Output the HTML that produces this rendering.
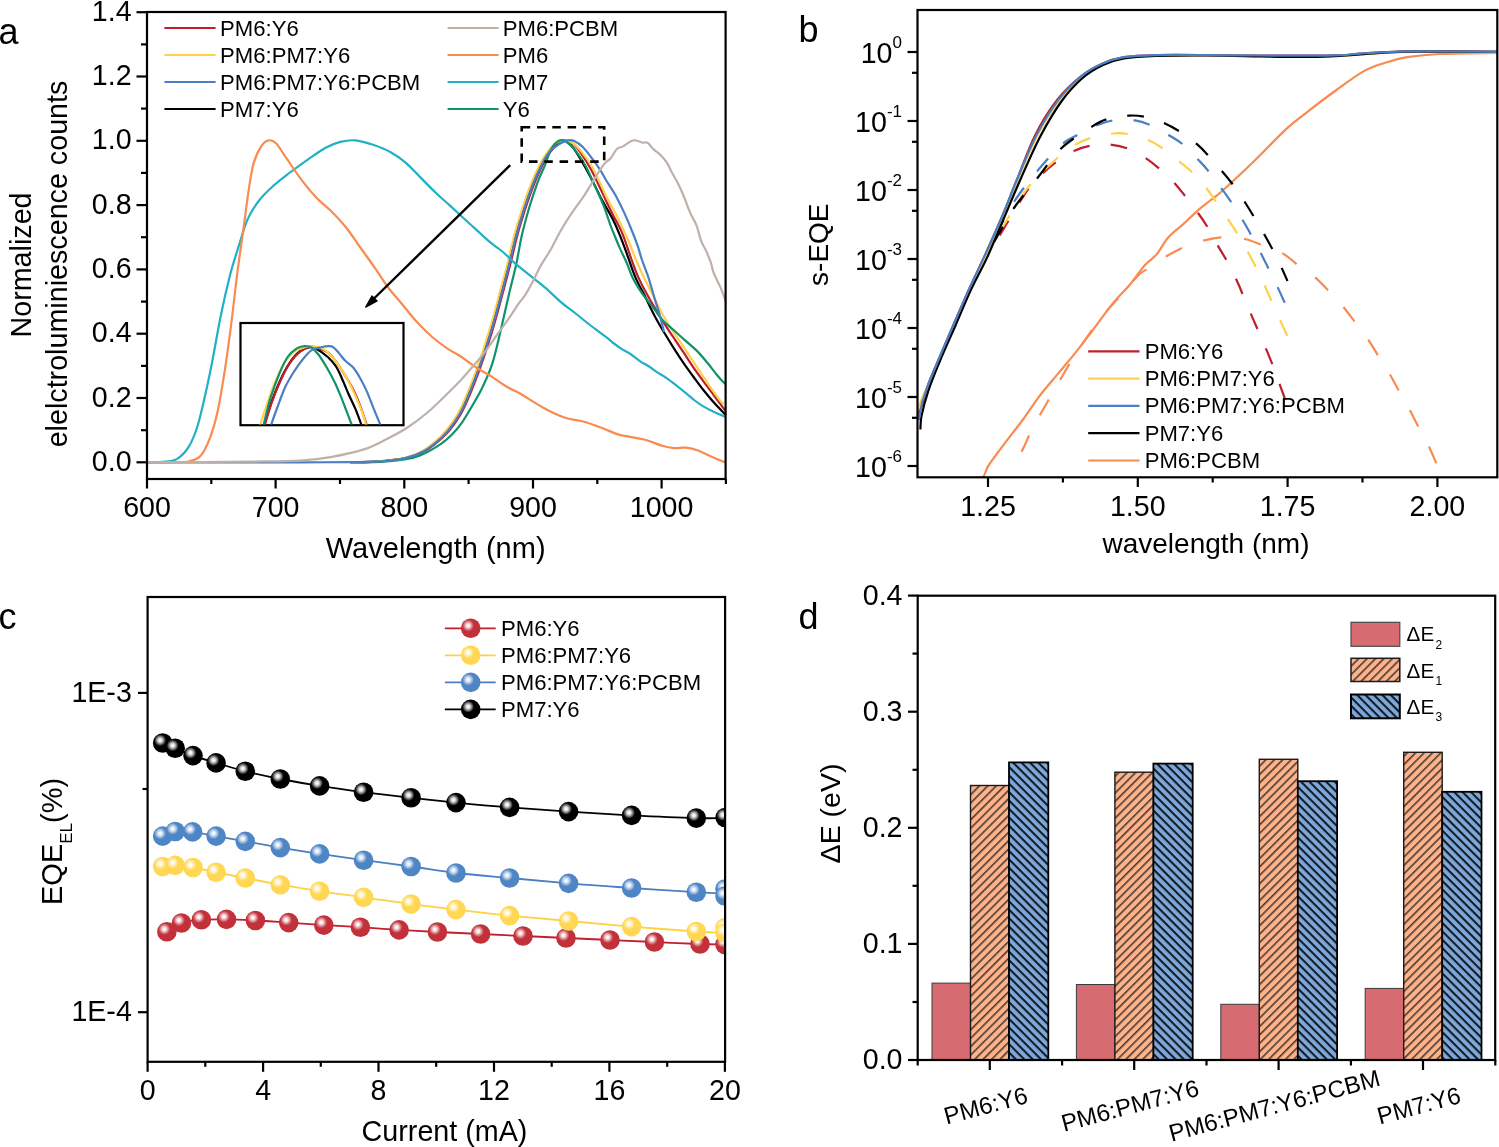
<!DOCTYPE html><html><head><meta charset="utf-8"><style>html,body{margin:0;padding:0;background:#fff;overflow:hidden}svg{display:block;will-change:transform}text{font-family:"Liberation Sans",sans-serif;fill:#000}</style></head><body>
<svg width="1499" height="1147" viewBox="0 0 1499 1147">
<rect width="1499" height="1147" fill="#fff"/>
<defs><clipPath id="clipA"><rect x="147" y="12" width="578.6" height="467"/></clipPath></defs>
<g clip-path="url(#clipA)">
<path d="M350 462.2C354.1 462.1 365.6 462.4 374.8 461.7C384 461 396.8 460 405.2 458.2C413.5 456.4 418.5 454.6 424.9 451C431.3 447.4 438.7 441.2 443.7 436.5C448.7 431.8 451.6 427.9 455 423C458.4 418.1 460.4 415.6 464.4 407C468.4 398.4 474.7 382.8 478.8 371.7C482.9 360.6 486.4 349.3 489.2 340.7C492 332.1 493.4 326.9 495.4 320C497.4 313.1 498.6 308.7 501 299.5C503.4 290.3 507.4 275.8 510.1 265C512.8 254.2 515 244 517.4 234.9C519.8 225.8 522.1 218.7 524.7 210.5C527.4 202.3 530.4 193.3 533.3 186C536.1 178.7 538.9 172.2 541.8 166.5C544.6 160.8 547.6 155.7 550.4 151.9C553.2 148.1 556 145.7 558.5 143.8C561 141.9 562.9 140.4 565.5 140.5C568.1 140.6 571.2 142 574 144.5C576.8 147 579.6 151.2 582.5 155.5C585.4 159.8 588.4 164.7 591.3 170C594.2 175.3 597.4 182.4 599.9 187.5C602.4 192.6 603.8 196 606 200.7C608.2 205.3 610.6 210.1 613.3 215.4C615.9 220.7 618.9 225.3 621.9 232.4C624.9 239.5 628.4 250.8 631 258C633.6 265.2 635.2 270.1 637.7 275.9C640.2 281.7 643.2 287.3 646.3 293C649.4 298.7 652.9 304.6 656.1 310.1C659.4 315.6 662.5 320.8 665.8 325.9C669 331 672.3 335.7 675.6 340.6C678.9 345.5 682.1 350.3 685.4 355.2C688.6 360.1 691.9 365.2 695.1 369.9C698.4 374.6 701.4 378.6 704.9 383.3C708.4 388 712.4 393.3 715.9 398C719.4 402.7 724.3 409.2 726 411.5" fill="none" stroke="#BE1E2D" stroke-width="2.2" stroke-linejoin="round"/>
<path d="M350 462.2C354.1 462.1 365.6 462.4 374.7 461.7C383.8 461 396.6 460 404.7 458.2C412.8 456.4 417.4 454.6 423.6 451C429.8 447.4 437 441.2 441.9 436.5C446.8 431.8 449.8 427.9 453.2 423C456.6 418.1 458.6 415.6 462.6 407C466.6 398.4 472.9 382.8 477 371.7C481.1 360.6 484.6 349.3 487.4 340.7C490.2 332.1 491.6 326.9 493.6 320C495.6 313.1 496.8 308.7 499.2 299.5C501.6 290.3 505.6 275.8 508.3 265C511 254.2 513.2 244 515.6 234.9C518 225.8 520.3 218.7 522.9 210.5C525.6 202.3 528.6 193.3 531.5 186C534.4 178.7 537.1 172.2 540 166.5C542.9 160.8 545.7 155.7 548.6 151.9C551.5 148.1 554.8 145.4 557.5 143.5C560.2 141.6 562.4 139.8 565 140.5C567.6 141.2 570.2 144.1 573 147.5C575.8 150.9 578.6 155.8 581.6 161C584.6 166.2 588.2 172.7 591.3 178.5C594.3 184.3 597.4 191.2 599.9 196C602.4 200.8 603.8 203 606 207C608.2 211 610.8 215.1 613.3 220.2C615.8 225.2 618.2 231.2 620.7 237.3C623.2 243.4 625.6 250.4 628 257C630.4 263.6 632.4 270.5 635.3 277.1C638.1 283.7 641.9 290.1 645.1 296.6C648.4 303.1 651.5 310.1 654.8 316.2C658 322.3 661.3 327.8 664.6 333.3C667.9 338.8 671.1 344 674.4 349.1C677.6 354.2 680.8 359.1 684.1 363.8C687.4 368.5 690.7 373 694 377.5C697.3 382 700.6 386.6 704 390.8C707.4 395 710.4 398.7 714.1 402.8C717.8 406.9 724 413.1 726 415.2" fill="none" stroke="#000000" stroke-width="2.2" stroke-linejoin="round"/>
<path d="M350 462.2C354.1 462.1 365.6 462.4 374.7 461.7C383.8 461 396.4 460 404.4 458.2C412.4 456.4 416.6 454.6 422.7 451C428.8 447.4 435.8 441.2 440.7 436.5C445.6 431.8 448.6 427.9 452 423C455.4 418.1 457.4 415.6 461.4 407C465.4 398.4 471.7 382.8 475.8 371.7C479.9 360.6 483.4 349.3 486.2 340.7C489 332.1 490.4 326.9 492.4 320C494.4 313.1 495.6 308.7 498 299.5C500.4 290.3 504.4 275.8 507.1 265C509.8 254.2 512 244 514.4 234.9C516.8 225.8 519.1 218.7 521.7 210.5C524.4 202.3 527.4 193.3 530.3 186C533.1 178.7 535.9 172.2 538.8 166.5C541.6 160.8 544.5 155.8 547.4 151.9C550.2 148 553.2 145.2 555.9 143.3C558.5 141.4 560.4 140.3 563.3 140.3C566.1 140.3 570 141.4 573 143.3C576 145.2 578.6 148.2 581.6 151.9C584.6 155.6 588.2 160.2 591.3 165.3C594.3 170.4 597.4 177.3 599.9 182.4C602.4 187.5 603.8 191.5 606 196C608.2 200.5 610.8 204.5 613.3 209.2C615.8 213.8 618.2 218.8 620.7 223.9C623.2 229 625.6 234.1 628 239.8C630.4 245.5 632.9 252.2 635.3 258C637.7 263.8 639.8 268.7 642.6 274.7C645.5 280.7 649.1 287.7 652.4 294.2C655.7 300.7 659 307.8 662.2 313.7C665.5 319.6 668.6 324.5 671.9 329.6C675.1 334.7 678.4 339.3 681.7 344.2C685 349.1 688.2 354 691.5 358.9C694.8 363.8 698 368.7 701.2 373.6C704.5 378.5 707.9 383.8 711 388.2C714.1 392.6 717.5 397.4 719.6 400C721.7 402.6 723 403.3 723.7 404" fill="none" stroke="#FDD14A" stroke-width="2.2" stroke-linejoin="round"/>
<path d="M350 462.2C355 462.2 370.9 462.5 380 462C389.1 461.5 397.7 460.5 404.4 459.4C411.1 458.3 413.9 458.1 420 455.5C426.1 452.9 435.4 447.6 440.7 444.1C446 440.6 448.6 437.9 452 434.5C455.4 431.1 458.1 428 461.4 423.4C464.6 418.8 468.1 412.9 471.5 407C474.9 401.1 478.5 395.6 482 388.3C485.5 381 489.3 373.1 492.4 363.4C495.5 353.7 498.1 341.4 500.8 330C503.5 318.6 506.2 306 508.8 295C511.4 284 514.1 273.8 516.3 264C518.4 254.2 519.6 245.3 521.7 236C523.8 226.7 526.5 216.9 529.1 208C531.8 199.1 535 189.5 537.6 182.4C540.2 175.3 542.7 170.8 544.9 165.3C547.1 159.8 548.8 153.5 551 149.4C553.2 145.3 555.9 142.2 558.4 140.9C560.9 139.6 562.9 139.9 565.7 141.5C568.6 143.1 572.2 146.6 575.5 150.6C578.8 154.6 582 159.4 585.2 165.3C588.5 171.2 591.9 179.3 595 186C598.1 192.7 601.1 199.3 603.6 205.6C606.1 211.9 608.4 219.5 610 224C611.6 228.5 611.7 228.6 613.3 232.4C614.9 236.2 617.1 242 619.4 247.1C621.6 252.2 624.5 257.8 626.8 263C629 268.2 630.3 273.1 632.9 278.3C635.5 283.5 639.4 289.5 642.6 294.2C645.9 298.9 649.1 302.1 652.4 306.4C655.7 310.7 658.5 315.7 662.2 319.8C665.9 323.9 670.5 327.3 674.4 330.8C678.3 334.3 681.7 337.3 685.4 340.6C689.1 343.9 692.9 346.9 696.4 350.4C699.9 353.8 702.9 357.4 706.1 361.3C709.4 365.2 713.4 370.5 715.9 373.6C718.4 376.7 719.6 378.2 721.3 380C723 381.8 725.2 383.8 726 384.5" fill="none" stroke="#0E936A" stroke-width="2.2" stroke-linejoin="round"/>
<path d="M147 462.3C172.5 462.3 262 462.4 300 462.3C338 462.2 357.3 462.4 374.7 461.7C392.2 461 396.7 460 404.9 458.2C413.1 456.4 417.9 454.6 424.2 451C430.5 447.4 437.7 441.2 442.7 436.5C447.7 431.8 450.6 427.9 454 423C457.4 418.1 459.4 415.6 463.4 407C467.4 398.4 473.7 382.8 477.8 371.7C481.9 360.6 485.4 349.3 488.2 340.7C491 332.1 492.4 326.9 494.4 320C496.4 313.1 497.6 308.7 500 299.5C502.4 290.3 506.4 275.8 509.1 265C511.8 254.2 514 244 516.4 234.9C518.8 225.8 521.1 218.7 523.7 210.5C526.4 202.3 529.4 193.3 532.3 186C535.1 178.7 537.9 172.2 540.8 166.5C543.6 160.8 546.1 155.8 549.4 151.9C552.7 148 557.7 145.2 560.8 143.3C563.9 141.4 565.9 140.7 568.1 140.3C570.3 139.9 571.8 139.8 574.2 140.9C576.7 142 579.7 143.9 582.8 147C585.9 150.1 589.5 155.1 592.6 159.2C595.7 163.3 598.9 167.9 601.1 171.4C603.3 174.9 603.5 175.9 606 180C608.5 184.1 612.8 190.3 615.8 195.8C618.8 201.3 621.7 207.2 624.3 212.9C626.9 218.6 629.4 224.5 631.6 230C633.8 235.5 636 240.9 637.7 245.9C639.4 250.9 640.2 254.6 642 260C643.8 265.4 646.6 271.8 648.7 278.3C650.8 284.8 653 293 654.8 299.1C656.6 305.2 658.2 309.4 659.7 314.9C661.2 320.4 663.3 329.1 664 332" fill="none" stroke="#4A7EC5" stroke-width="2.2" stroke-linejoin="round"/>
<path d="M147 462.3C149.5 462.2 157 462.3 161.9 461.8C166.8 461.3 172.3 461.5 176.7 459.1C181.1 456.7 185.1 452.6 188.5 447.2C191.9 441.8 194.7 434.9 197.4 426.5C200.1 418.1 202.3 407.7 204.8 396.8C207.3 385.9 209.6 375 212.3 361.2C215 347.4 218.2 328.1 221.2 313.8C224.1 299.5 227.1 286.7 230 275.3C232.9 263.9 235.9 255 238.9 245.6C241.9 236.2 244.3 226.6 247.8 218.9C251.3 211.2 255.2 205.4 259.7 199.7C264.1 194 269.6 189.2 274.5 184.8C279.4 180.4 283.8 177.2 289.3 173C294.9 168.8 301.8 163.8 307.8 159.6C313.9 155.4 320.2 150.8 325.6 147.8C331 144.9 335.5 143.1 340.4 141.9C345.3 140.7 349.8 139.9 355.2 140.4C360.6 140.9 367.1 142.8 373 144.8C378.9 146.8 385.3 149.2 390.7 152.2C396.1 155.2 400.7 158.4 405.6 162.6C410.6 166.8 415.5 172.5 420.4 177.4C425.3 182.3 430.3 187.5 435.2 192.2C440.1 196.9 444.2 200.3 450 205.6C455.8 210.9 463.3 217.9 470 224C476.7 230.1 485 237.9 490 242.2C495 246.4 496.8 247.1 499.8 249.5C502.9 251.9 505.8 254.6 508.3 256.9C510.8 259.2 510.8 259.9 515 263.4C519.2 266.9 528.2 274 533.3 278.1C538.4 282.2 541 284 545.5 287.9C550 291.8 555.1 297.1 560 301.3C564.9 305.5 570 309.1 575 313C580 316.9 584.8 321 590 325C595.2 329 602.1 333.9 606 336.9C609.9 339.9 610.6 341 613.3 343C615.9 345 619 347.3 621.9 349.1C624.8 350.9 627.3 352 630.4 354C633.5 356 637.2 359.3 640.2 361.3C643.2 363.3 645.9 364.4 648.7 366.2C651.6 368 654.2 370.3 657.3 372.3C660.3 374.3 663.8 376.1 667 378.4C670.2 380.6 673.6 383.3 676.8 385.8C680 388.3 683.4 390.9 686.3 393.3C689.2 395.7 691.5 397.9 694.1 400C696.7 402.1 698.8 403.6 702.1 405.6C705.4 407.6 710.1 410.1 714.1 412C718.1 413.9 724 416.2 726 417" fill="none" stroke="#22B0C6" stroke-width="2.2" stroke-linejoin="round"/>
<path d="M147 462.3C151.7 462.3 168.1 462.3 175 462.2C181.9 462.1 184.3 462.5 188.5 461.5C192.7 460.5 196.8 460 200.4 456.1C204 452.2 206.9 445.7 209.8 438.3C212.7 430.9 215 423.5 217.6 411.6C220.2 399.8 223 382 225.3 367.2C227.6 352.4 229.4 338.5 231.4 322.7C233.4 306.9 235.4 287.6 237.4 272.3C239.4 257 241.3 244.6 243.2 230.8C245.1 217 247 200.7 248.8 189.3C250.6 177.9 251.7 169.8 253.8 162.6C255.9 155.4 258.7 150 261.2 146.3C263.7 142.6 266.1 140.9 268.6 140.4C271.1 139.9 273 140.3 276 143.3C279 146.3 282.1 152 286.4 158.2C290.7 164.4 296.8 173.8 301.9 180.4C306.9 187.1 311.8 192.9 316.7 198.1C321.6 203.3 326.6 206.6 331.5 211.5C336.4 216.4 341.4 221.6 346.3 227.8C351.2 234 356.2 241.6 361.1 248.5C366 255.4 371.4 262.9 375.9 269.3C380.3 275.7 383.4 281.1 387.8 287C392.2 292.9 397.7 298.9 402.6 304.8C407.5 310.7 412.5 317.2 417.4 322.6C422.3 328 427.2 332.7 432.2 337C437.1 341.3 442.5 345.1 447.1 348.3C451.7 351.5 454.9 352.6 460 356C465.1 359.4 472.6 365.2 477.6 368.5C482.6 371.8 485.9 373 490 375.5C494.1 378 498.4 381.4 502 383.7C505.6 386 508.3 387.6 511.3 389.2C514.3 390.8 514.6 390.4 520 393.5C525.4 396.6 536.3 404 543.7 408C551.1 412 558 415.3 564.4 417.5C570.8 419.7 576.3 419.7 582.2 421.3C588.1 422.9 594 425 600 427.2C606 429.4 613 432.8 618 434.4C623 436 625.3 435.9 630 436.8C634.7 437.7 640.7 438.5 646 440C651.3 441.5 657.3 444.3 662 445.7C666.7 447.1 670.1 447.8 674.1 448.1C678.1 448.4 682.1 447.3 686.1 447.7C690.1 448.1 694.1 449.1 698.1 450.5C702.1 451.9 705.5 454.1 710.1 456.1C714.8 458.1 723.4 461.6 726 462.7" fill="none" stroke="#F98B50" stroke-width="2.2" stroke-linejoin="round"/>
<path d="M147 462.3C164.2 462.2 224.5 461.9 250 461.6C275.5 461.3 286.3 461.4 300 460.6C313.7 459.8 321.3 458.7 332 456.8C342.7 454.9 355.1 452.2 364 449.4C372.9 446.6 378.3 443.4 385.4 439.8C392.5 436.2 399.6 432.6 406.7 428C413.8 423.4 421 418.1 428.1 412C435.2 405.9 444.1 396.9 449.4 391.7C454.7 386.5 456.2 385.1 460 381C463.8 376.9 468.1 371.9 472.2 367.2C476.3 362.5 480.3 357.9 484.4 352.6C488.5 347.3 492.5 341.2 496.6 335.5C500.7 329.8 505.1 323.7 508.8 318.4C512.5 313.1 515.8 307.8 518.6 303.7C521.5 299.6 523.5 297.9 525.9 294C528.3 290.1 530.8 285.2 533.3 280.5C535.8 275.8 537.5 271.3 540.6 265.9C543.7 260.5 548.4 253.7 551.6 248C554.8 242.3 557 237.2 560 232C563 226.8 565.4 222.6 569.4 216.6C573.4 210.6 579.9 201.9 584 195.8C588.1 189.7 590.8 184.8 593.8 179.9C596.8 175 600.3 169.4 602.3 166.5C604.3 163.6 604.6 163.6 606 162.2C607.4 160.8 609.1 160.2 610.9 158C612.7 155.8 615 150.7 617 148.8C619 146.9 620.9 147.6 623.1 146.4C625.3 145.2 628.4 142.5 630.4 141.5C632.4 140.5 633.3 140.1 635.3 140.3C637.3 140.5 640.6 142.3 642.6 142.7C644.6 143.1 645.7 141.6 647.5 142.7C649.3 143.8 651.4 147.3 653.6 149.4C655.9 151.5 658.8 153.2 661 155.5C663.2 157.8 665.2 160.1 667 162.9C668.8 165.8 670.1 169.2 671.9 172.6C673.7 176 676 179.5 678 183.6C680 187.7 682.1 192.1 684.1 197C686.1 201.9 688.2 208.2 690.2 212.9C692.2 217.6 694.6 220.4 696.4 225.1C698.2 229.8 699.6 236.7 701.2 241C702.8 245.3 704.5 247.1 706.1 250.8C707.7 254.5 709.8 259.4 711 263C712.2 266.6 711.8 268 713.4 272.2C715 276.4 718.7 283.1 720.8 288.1C722.9 293.1 725.1 299.7 726 302" fill="none" stroke="#BFB1A9" stroke-width="2.2" stroke-linejoin="round"/>
</g>
<rect x="521.7" y="127.2" width="82.5" height="34.4" fill="none" stroke="#000" stroke-width="2.6" stroke-dasharray="8.5 6.8"/>
<line x1="510.2" y1="165.2" x2="373" y2="299.5" stroke="#000" stroke-width="2.4"/>
<polygon points="365.7,307.1 372,295.9 377.2,300.9" fill="#000" stroke="#000" stroke-width="1.2" stroke-linejoin="round"/>
<rect x="240.5" y="323" width="163" height="102.2" fill="#fff" stroke="#000" stroke-width="2.2"/>
<g clip-path="url(#clipIns)">
<path d="M264.1 425.3C265.3 421.7 268.3 410.9 271 403.5C273.7 396 277.1 387.2 280.2 380.5C283.2 373.8 286.1 368.2 289.4 363.3C292.6 358.5 296.1 354.2 299.7 351.5C303.2 348.8 307.8 347.4 310.6 346.9C313.4 346.5 313.5 347.1 316.3 348.8C319.2 350.4 324.5 354.1 327.8 357C331 359.9 333.5 362.8 335.8 366.2C338.1 369.6 339.5 373.1 341.6 377.7C343.7 382.3 346.2 388.6 348.4 393.7C350.7 398.9 353.1 403.4 355.3 408.6C357.5 413.9 360.6 422.5 361.6 425.3" fill="none" stroke="#000000" stroke-width="2.2" stroke-linejoin="round"/>
<path d="M264.7 425.3C265.8 421.6 268.9 410.5 271.6 402.9C274.2 395.4 277.7 386.7 280.8 380C283.8 373.3 286.7 367.5 289.9 362.8C293.2 358 296.8 354 300.3 351.3C303.7 348.6 307.5 347.2 310.6 346.7C313.6 346.2 315.7 347.1 318.6 348.1C321.5 349 324.7 350 327.8 352.4C330.9 354.9 334.1 358.9 337 362.8C339.8 366.6 342.3 371 345 375.4C347.7 379.8 350.6 384.2 353 389.1C355.5 394.1 357.6 399.2 359.9 405.2C362.2 411.2 365.7 421.9 366.8 425.3" fill="none" stroke="#BE1E2D" stroke-width="2.2" stroke-linejoin="round"/>
<path d="M260.1 425.3C261.2 421.7 264.5 411.2 267 404.1C269.5 396.9 272.1 389.1 275 382.3C277.9 375.4 280.9 367.9 284.2 362.8C287.4 357.6 291.1 353.9 294.5 351.3C298 348.7 301.6 348.1 304.8 347.3C308.1 346.5 311 346.2 314 346.5C317.1 346.7 320.1 347.2 323.2 349C326.3 350.7 329.3 353.6 332.4 357C335.4 360.5 338.7 365.2 341.6 369.6C344.4 374 347.1 378.6 349.6 383.4C352.1 388.2 354.4 393.5 356.5 398.3C358.6 403.1 360.6 407.6 362.2 412.1C363.8 416.6 365.6 423.1 366.2 425.3" fill="none" stroke="#FDD14A" stroke-width="2.2" stroke-linejoin="round"/>
<path d="M263.5 425.3C264.7 420.8 267.7 407 270.4 398.3C273.1 389.6 276.7 380 279.6 373.1C282.5 366.2 284.8 361.1 287.6 357C290.5 352.9 293.9 350.2 296.8 348.4C299.7 346.6 302.4 346.2 304.8 346.1C307.3 346 309.4 346.4 311.7 347.8C314 349.3 316.1 351.5 318.6 354.7C321.1 358 324 362.8 326.6 367.3C329.3 371.9 332.2 377.1 334.7 382.3C337.2 387.4 339.5 393.2 341.6 398.3C343.7 403.5 345.6 408.7 347.3 413.2C349 417.7 351.1 423.3 351.9 425.3" fill="none" stroke="#0E936A" stroke-width="2.2" stroke-linejoin="round"/>
<path d="M271 425.3C272 422.3 274.9 413.9 277.3 407.5C279.7 401.1 282.5 393 285.3 386.8C288.2 380.7 291.5 375.6 294.5 370.8C297.6 366 300.8 361.6 303.7 358.2C306.6 354.7 308.9 351.9 311.7 350.1C314.6 348.3 318 347.9 320.9 347.3C323.8 346.6 326.8 346.1 328.9 346.1C331 346.1 331.8 346 333.5 347.3C335.3 348.5 337.4 351.4 339.3 353.6C341.2 355.8 342.7 358.2 345 360.5C347.3 362.8 350.6 364.5 353 367.3C355.5 370.2 357.6 373.7 359.9 377.7C362.2 381.7 364.5 386.3 366.8 391.4C369.1 396.6 371.4 403 373.7 408.6C376 414.3 379.4 422.5 380.6 425.3" fill="none" stroke="#4A7EC5" stroke-width="2.2" stroke-linejoin="round"/>
</g>
<defs><clipPath id="clipIns"><rect x="241" y="323" width="162" height="101.5"/></clipPath></defs>
<rect x="147" y="12" width="578.6" height="467" fill="none" stroke="#000" stroke-width="2.2"/>
<line x1="136.5" y1="462.3" x2="147" y2="462.3" stroke="#000" stroke-width="2.2"/>
<text x="131.6" y="470.9" font-size="28.6" text-anchor="end">0.0</text>
<line x1="141" y1="430.2" x2="147" y2="430.2" stroke="#000" stroke-width="2.2"/>
<line x1="136.5" y1="398" x2="147" y2="398" stroke="#000" stroke-width="2.2"/>
<text x="131.6" y="406.6" font-size="28.6" text-anchor="end">0.2</text>
<line x1="141" y1="365.9" x2="147" y2="365.9" stroke="#000" stroke-width="2.2"/>
<line x1="136.5" y1="333.7" x2="147" y2="333.7" stroke="#000" stroke-width="2.2"/>
<text x="131.6" y="342.3" font-size="28.6" text-anchor="end">0.4</text>
<line x1="141" y1="301.6" x2="147" y2="301.6" stroke="#000" stroke-width="2.2"/>
<line x1="136.5" y1="269.4" x2="147" y2="269.4" stroke="#000" stroke-width="2.2"/>
<text x="131.6" y="278" font-size="28.6" text-anchor="end">0.6</text>
<line x1="141" y1="237.2" x2="147" y2="237.2" stroke="#000" stroke-width="2.2"/>
<line x1="136.5" y1="205.1" x2="147" y2="205.1" stroke="#000" stroke-width="2.2"/>
<text x="131.6" y="213.7" font-size="28.6" text-anchor="end">0.8</text>
<line x1="141" y1="172.9" x2="147" y2="172.9" stroke="#000" stroke-width="2.2"/>
<line x1="136.5" y1="140.8" x2="147" y2="140.8" stroke="#000" stroke-width="2.2"/>
<text x="131.6" y="149.4" font-size="28.6" text-anchor="end">1.0</text>
<line x1="141" y1="108.6" x2="147" y2="108.6" stroke="#000" stroke-width="2.2"/>
<line x1="136.5" y1="76.5" x2="147" y2="76.5" stroke="#000" stroke-width="2.2"/>
<text x="131.6" y="85.1" font-size="28.6" text-anchor="end">1.2</text>
<line x1="141" y1="44.4" x2="147" y2="44.4" stroke="#000" stroke-width="2.2"/>
<line x1="136.5" y1="12.2" x2="147" y2="12.2" stroke="#000" stroke-width="2.2"/>
<text x="131.6" y="20.8" font-size="28.6" text-anchor="end">1.4</text>
<line x1="147" y1="479" x2="147" y2="488.5" stroke="#000" stroke-width="2.2"/>
<text x="147" y="516.6" font-size="28.6" text-anchor="middle">600</text>
<line x1="211.3" y1="479" x2="211.3" y2="484" stroke="#000" stroke-width="2.2"/>
<line x1="275.6" y1="479" x2="275.6" y2="488.5" stroke="#000" stroke-width="2.2"/>
<text x="275.6" y="516.6" font-size="28.6" text-anchor="middle">700</text>
<line x1="340" y1="479" x2="340" y2="484" stroke="#000" stroke-width="2.2"/>
<line x1="404.3" y1="479" x2="404.3" y2="488.5" stroke="#000" stroke-width="2.2"/>
<text x="404.3" y="516.6" font-size="28.6" text-anchor="middle">800</text>
<line x1="468.6" y1="479" x2="468.6" y2="484" stroke="#000" stroke-width="2.2"/>
<line x1="533" y1="479" x2="533" y2="488.5" stroke="#000" stroke-width="2.2"/>
<text x="533" y="516.6" font-size="28.6" text-anchor="middle">900</text>
<line x1="597.3" y1="479" x2="597.3" y2="484" stroke="#000" stroke-width="2.2"/>
<line x1="661.6" y1="479" x2="661.6" y2="488.5" stroke="#000" stroke-width="2.2"/>
<text x="661.6" y="516.6" font-size="28.6" text-anchor="middle">1000</text>
<line x1="725.9" y1="479" x2="725.9" y2="484" stroke="#000" stroke-width="2.2"/>
<text x="435.7" y="558.3" font-size="29" text-anchor="middle">Wavelength (nm)</text>
<text x="30.5" y="265" font-size="28.7" text-anchor="middle" transform="rotate(-90 30.5 265)">Normalized</text>
<text x="66.6" y="264" font-size="28.7" text-anchor="middle" transform="rotate(-90 66.6 264)">elelctroluminiescence counts</text>
<text x="-1.5" y="43.5" font-size="36" text-anchor="start">a</text>
<line x1="164.4" y1="28" x2="215.6" y2="28" stroke="#BE1E2D" stroke-width="2.2"/>
<text x="220.1" y="35.7" font-size="22.1" text-anchor="start">PM6:Y6</text>
<line x1="164.4" y1="55" x2="215.6" y2="55" stroke="#FDD14A" stroke-width="2.2"/>
<text x="220.1" y="62.7" font-size="22.1" text-anchor="start">PM6:PM7:Y6</text>
<line x1="164.4" y1="82" x2="215.6" y2="82" stroke="#4A7EC5" stroke-width="2.2"/>
<text x="220.1" y="89.7" font-size="22.1" text-anchor="start">PM6:PM7:Y6:PCBM</text>
<line x1="164.4" y1="109" x2="215.6" y2="109" stroke="#000000" stroke-width="2.2"/>
<text x="220.1" y="116.7" font-size="22.1" text-anchor="start">PM7:Y6</text>
<line x1="447.6" y1="28" x2="498.6" y2="28" stroke="#BFB1A9" stroke-width="2.2"/>
<text x="502.8" y="35.7" font-size="22.1" text-anchor="start">PM6:PCBM</text>
<line x1="447.6" y1="55" x2="498.6" y2="55" stroke="#F98B50" stroke-width="2.2"/>
<text x="502.8" y="62.7" font-size="22.1" text-anchor="start">PM6</text>
<line x1="447.6" y1="82" x2="498.6" y2="82" stroke="#22B0C6" stroke-width="2.2"/>
<text x="502.8" y="89.7" font-size="22.1" text-anchor="start">PM7</text>
<line x1="447.6" y1="109" x2="498.6" y2="109" stroke="#0E936A" stroke-width="2.2"/>
<text x="502.8" y="116.7" font-size="22.1" text-anchor="start">Y6</text>
<defs><clipPath id="clipB"><rect x="917.5" y="10" width="579.8" height="467.3"/></clipPath></defs>
<g clip-path="url(#clipB)">
<path d="M975 477.6C976.3 477.5 980.7 479 983 477C985.3 475 985.1 470.9 988.6 465.4C992.1 459.9 998.3 451.8 1004.1 444.1C1009.9 436.4 1017.4 427.1 1023.4 419C1029.4 410.9 1034.3 402.7 1040 395.3C1045.7 387.9 1051.6 381.4 1057.4 374.4C1063.2 367.4 1069.1 360.7 1074.9 353.4C1080.7 346.1 1085.9 339.2 1092.3 330.8C1098.7 322.4 1106.8 310.8 1113.2 302.9C1119.6 295 1125.5 289.9 1130.7 283.7C1135.9 277.4 1140.2 270.3 1144.6 265.4C1148.9 260.5 1152.9 258.8 1156.8 254.1C1160.7 249.4 1163.8 242.4 1168.2 237.5C1172.6 232.6 1178.2 228.8 1183 224.4C1187.8 220 1192.2 215.4 1196.9 211.3C1201.6 207.2 1206.8 203.3 1210.9 200C1215.1 196.7 1214.5 197.9 1221.8 191.3C1229.1 184.8 1243.6 171.2 1254.5 160.7C1265.4 150.2 1278.1 136.4 1287.2 128.1C1296.3 119.8 1301 116.8 1309 110.6C1317 104.4 1326 97.5 1335.1 91C1344.2 84.5 1355.1 76.1 1363.4 71.4C1371.8 66.7 1377.9 65.1 1385.2 62.7C1392.5 60.3 1397.9 58.7 1407 57.2C1416.1 55.8 1424.5 54.7 1439.7 54C1454.9 53.3 1488.3 53.1 1498 52.9" fill="none" stroke="#F98B50" stroke-width="2.2" stroke-linejoin="round"/>
<path d="M1015.7 463.5C1017.2 460.6 1021.5 452.1 1024.4 446C1027.3 439.9 1030 432.6 1033.1 426.7C1036.1 420.8 1039.4 416.1 1042.7 410.3C1046 404.5 1049.9 397.4 1053.1 391.8C1056.3 386.2 1058.5 382.7 1061.8 377C1065.1 371.3 1069.5 363.6 1073.1 357.8C1076.7 352 1079.8 347.6 1083.6 342.1C1087.4 336.6 1092 329.8 1095.8 324.7C1099.6 319.6 1102.1 316.6 1106.3 311.6C1110.5 306.7 1116.9 299.8 1121.1 295C1125.3 290.2 1128.2 286.5 1131.5 282.8C1134.8 279.1 1137.8 275.6 1141 273C1144.2 270.4 1146.3 270 1150.7 267.1C1155.1 264.2 1161.1 259.4 1167.3 255.8C1173.5 252.2 1181.6 247.9 1187.9 245.3C1194.2 242.7 1198.7 241.5 1205.3 240.1C1211.9 238.7 1220.7 237.2 1227.4 237C1234.2 236.8 1240 237.9 1245.8 239.2C1251.6 240.5 1255.8 242.6 1262 245C1268.2 247.4 1275.8 249.2 1282.8 253.4C1289.8 257.6 1298.4 266.1 1303.7 270C1309 273.9 1310.4 273.4 1314.7 277C1319 280.6 1325.1 287.1 1329.7 291.9C1334.3 296.7 1338.3 300.7 1342.6 305.9C1346.9 311.1 1351.4 317.4 1355.6 322.9C1359.8 328.4 1363.6 333 1367.6 338.8C1371.6 344.6 1375.8 352 1379.5 357.8C1383.2 363.6 1386 367.7 1389.5 373.7C1393 379.7 1397.2 387.7 1400.5 393.7C1403.8 399.7 1406.3 403.8 1409.5 409.6C1412.7 415.4 1416.2 422.6 1419.4 428.6C1422.6 434.6 1425.4 439.4 1428.4 445.5C1431.4 451.6 1434.9 460.3 1437.4 465.5C1439.9 470.7 1442 473.8 1443.4 476.5C1444.8 479.2 1445.6 481.1 1446 482" fill="none" stroke="#F98B50" stroke-width="2.2" stroke-linejoin="round" stroke-dasharray="18 23" stroke-dashoffset="-13"/>
<path d="M997 240C1002.2 231.5 1020.5 200 1028.1 189C1035.6 178 1037.6 178.3 1042.3 173.8C1047 169.3 1051.1 165.6 1056.4 161.8C1061.7 158 1068.1 153.6 1073.9 150.9C1079.7 148.2 1085 146.5 1091.3 145.5C1097.6 144.5 1105.8 144.3 1112 144.8C1118.2 145.3 1122.8 146.6 1128.3 148.7C1133.8 150.8 1139.8 154.4 1144.7 157.5C1149.6 160.6 1153.2 163.5 1157.7 167.3C1162.2 171.1 1167.5 175.8 1171.9 180.3C1176.3 184.8 1179.6 189.1 1183.9 194.5C1188.2 199.9 1194 207.6 1198 213C1202 218.4 1204.1 221.5 1207.6 227.2C1211 232.9 1215.4 241.3 1218.7 247.1C1222 252.9 1224.2 255.9 1227.4 261.9C1230.6 267.9 1235 276.7 1237.9 283C1240.8 289.3 1242.2 293.6 1244.9 299.9C1247.6 306.2 1251.2 314.8 1253.9 320.9C1256.6 327 1258.2 330.6 1260.8 336.8C1263.4 343 1267.3 351.7 1269.8 357.8C1272.3 363.9 1273.5 367.4 1275.8 373.7C1278.1 380 1281.9 390.6 1283.8 395.7C1285.7 400.8 1286.5 402.6 1287 404" fill="none" stroke="#BE1E2D" stroke-width="2.2" stroke-linejoin="round" stroke-dasharray="17 21" stroke-dashoffset="-5.4"/>
<path d="M995 240C1000.1 231.7 1016 203.3 1025.9 190.1C1035.8 176.9 1046.3 168.1 1054.3 160.7C1062.3 153.3 1067.7 149.3 1073.9 145.5C1080.1 141.7 1084.8 139.8 1091.3 137.8C1097.8 135.8 1106.9 134.1 1113.1 133.5C1119.3 132.9 1122.5 133 1128.3 134.1C1134.1 135.2 1142.1 137.6 1147.9 140C1153.7 142.4 1158.1 145.2 1163.2 148.7C1168.3 152.1 1173.5 156.7 1178.4 160.7C1183.3 164.7 1187.8 168 1192.6 172.7C1197.4 177.4 1203 184.1 1207 189C1211 193.9 1211.1 194.6 1216.3 202.2C1221.5 209.8 1231.4 223.7 1238.1 234.8C1244.8 245.9 1252.1 259.7 1256.7 268.6C1261.3 277.5 1263.1 282.1 1265.8 288C1268.5 293.9 1270.1 297.9 1272.8 303.9C1275.5 309.9 1279.3 318.4 1281.8 323.9C1284.3 329.4 1287 334.8 1288 337" fill="none" stroke="#FDD14A" stroke-width="2.2" stroke-linejoin="round" stroke-dasharray="17 21" stroke-dashoffset="-11.5"/>
<path d="M993 240C996.5 233.7 1006.7 213.4 1014 202C1021.3 190.6 1029 181 1036.8 171.6C1044.6 162.2 1054.6 151.3 1060.8 145.5C1067 139.7 1068.1 140.1 1073.9 136.8C1079.7 133.5 1089.1 128.6 1095.6 125.9C1102.1 123.2 1106.5 121.3 1113.1 120.4C1119.6 119.5 1128.4 119.5 1134.9 120.4C1141.4 121.3 1146.5 123.4 1152.3 125.9C1158.1 128.4 1164.6 132.6 1169.7 135.7C1174.8 138.8 1178.1 140.4 1182.8 144.4C1187.5 148.4 1193.7 155.1 1198 159.6C1202.3 164.1 1202.9 164.1 1208.7 171.6C1214.5 179.1 1225.4 193.4 1232.7 204.3C1240 215.2 1246 225.6 1252.3 237C1258.6 248.4 1266.2 263.9 1270.8 273C1275.4 282.1 1277.1 286.1 1279.8 291.9C1282.5 297.7 1285.8 305.3 1287 308" fill="none" stroke="#4A7EC5" stroke-width="2.2" stroke-linejoin="round" stroke-dasharray="17 21" stroke-dashoffset="-5.7"/>
<path d="M994 242C995.7 239.2 1000.5 230.9 1004 225C1007.5 219.1 1009.2 214.7 1015 206.5C1020.8 198.3 1031.4 185.6 1039 176C1046.6 166.4 1052.1 156.9 1060.8 148.7C1069.5 140.5 1083.7 131.9 1091.3 127C1098.9 122.1 1100.2 121.2 1106.5 119.3C1112.8 117.4 1122.9 116 1129.4 115.6C1136 115.2 1140.2 115.9 1145.8 117.1C1151.4 118.3 1157.6 120.2 1163.2 122.6C1168.8 125 1174 127.9 1179.5 131.3C1185 134.8 1191.3 139.5 1195.9 143.3C1200.5 147.1 1200.7 147.1 1207 154.2C1213.3 161.3 1225.7 174.9 1233.8 185.8C1241.9 196.7 1248.7 208.2 1255.6 219.6C1262.5 231 1269.9 244.3 1275.2 254.5C1280.5 264.7 1285.5 276.6 1287.5 281" fill="none" stroke="#000000" stroke-width="2.2" stroke-linejoin="round" stroke-dasharray="17 21" stroke-dashoffset="-0.5"/>
<path d="M917 416C917.8 414.5 919.6 412.2 921.5 406.9C923.4 401.6 925.3 392.5 928.3 384.2C931.3 375.9 935.5 366.8 939.7 357C943.9 347.2 948.4 336.6 953.3 325.2C958.2 313.8 963.9 300.6 969.2 288.9C974.5 277.2 979.4 267.4 985.1 254.9C990.8 242.4 997.9 226.5 1003.2 214C1008.5 201.5 1011.4 193.2 1016.8 180C1022.2 166.8 1028.8 148 1035.5 134.6C1042.2 121.2 1049.8 109.3 1057.3 99.7C1064.8 90.1 1072.9 82.8 1080.4 76.8C1087.9 70.8 1094.9 67.1 1102.2 63.8C1109.5 60.5 1114.9 58.7 1124 57.2C1133.1 55.8 1142.8 55.5 1156.6 55.1C1170.4 54.8 1189.8 55 1207 55.1C1224.2 55.2 1243 55.4 1260 55.5C1277 55.6 1295.7 55.8 1309 55.7C1322.3 55.7 1331.5 55.6 1340 55.2C1348.5 54.9 1353.3 54.1 1360 53.6C1366.7 53.1 1370.3 52.7 1380 52.3C1389.7 51.9 1398.2 51.5 1417.9 51.4C1437.6 51.3 1484.7 51.7 1498 51.8" fill="none" stroke="#BE1E2D" stroke-width="2.2" stroke-linejoin="round"/>
<path d="M917.6 410.5C918.5 408.1 921.8 399 922.8 396.3C923.8 393.6 922.6 396.6 923.6 394.5C924.6 392.4 926 389.6 928.8 383.5C931.6 377.4 936.3 367.2 940.5 357.6C944.7 348 949.2 337.2 954.1 325.8C959 314.4 964.7 301.2 970 289.5C975.3 277.8 980.2 268 985.9 255.5C991.6 243 998.7 227.1 1004 214.6C1009.3 202.1 1012 193.8 1017.6 180.6C1023.2 167.4 1030.6 148.6 1037.6 135.2C1044.6 121.8 1052.1 109.9 1059.4 100.3C1066.7 90.7 1073.9 83.4 1081.2 77.4C1088.5 71.4 1095.7 67.7 1103 64.4C1110.3 61.1 1115.7 59.2 1124.8 57.8C1133.9 56.4 1143.6 56.1 1157.4 55.7C1171.2 55.4 1190.6 55.6 1207.8 55.7C1225 55.8 1243.8 56 1260.8 56.1C1277.8 56.2 1296.5 56.4 1309.8 56.3C1323.1 56.3 1332.3 56.2 1340.8 55.8C1349.3 55.5 1354.1 54.7 1360.8 54.2C1367.5 53.7 1371.1 53.3 1380.8 52.9C1390.5 52.5 1399 52.1 1418.7 52C1438.4 51.9 1485.5 52.3 1498.8 52.4" fill="none" stroke="#FDD14A" stroke-width="2.2" stroke-linejoin="round"/>
<path d="M920.4 429.5C920.6 427.2 920.2 422.4 921.5 416C922.8 409.6 925.3 400.1 928.3 391C931.3 381.9 935.2 372.5 939.7 361.5C944.2 350.5 950.3 337.3 955.6 325.2C960.9 313.1 966.1 300.2 971.4 288.9C976.7 277.5 981.9 268.9 987.3 257.1C992.7 245.3 998.5 230.8 1004 218C1009.5 205.2 1014.2 193.5 1020.2 180C1026.2 166.5 1033.2 150 1040 137C1046.8 124 1054 111.8 1061 102C1068 92.2 1075 84.7 1082 78.5C1089 72.3 1096 68.3 1103 65C1110 61.7 1115.1 60 1124 58.5C1132.9 57 1142.8 56.5 1156.6 56C1170.4 55.5 1189.8 55.4 1207 55.5C1224.2 55.6 1244.5 56.2 1260 56.5C1275.5 56.8 1288.3 57 1300 57C1311.7 57 1320 56.9 1330 56.5C1340 56.1 1351.7 55.1 1360 54.5C1368.3 53.9 1370.3 53.3 1380 52.8C1389.7 52.3 1398.2 51.8 1417.9 51.6C1437.6 51.4 1484.7 51.8 1498 51.8" fill="none" stroke="#000000" stroke-width="2.2" stroke-linejoin="round"/>
<path d="M918.8 420C919.4 417 921.4 405.6 922.2 402C923 398.4 922.5 401.5 923.5 398.5C924.5 395.5 925.6 391.1 928.3 384.2C931 377.3 935.5 366.8 939.7 357C943.9 347.2 948.4 336.6 953.3 325.2C958.2 313.8 963.9 300.6 969.2 288.9C974.5 277.2 979.4 267.4 985.1 254.9C990.8 242.4 997.9 226.5 1003.2 214C1008.5 201.5 1011.2 193.2 1016.8 180C1022.4 166.8 1029.8 148 1036.8 134.6C1043.8 121.2 1051.3 109.3 1058.6 99.7C1065.9 90.1 1073.1 82.8 1080.4 76.8C1087.7 70.8 1094.9 67.1 1102.2 63.8C1109.5 60.5 1114.9 58.7 1124 57.2C1133.1 55.8 1142.8 55.5 1156.6 55.1C1170.4 54.8 1189.8 55 1207 55.1C1224.2 55.2 1243 55.4 1260 55.5C1277 55.6 1295.7 55.8 1309 55.7C1322.3 55.7 1331.5 55.6 1340 55.2C1348.5 54.9 1353.3 54.1 1360 53.6C1366.7 53.1 1370.3 52.7 1380 52.3C1389.7 51.9 1398.2 51.5 1417.9 51.4C1437.6 51.3 1484.7 51.7 1498 51.8" fill="none" stroke="#4A7EC5" stroke-width="2.2" stroke-linejoin="round"/>
</g>
<rect x="917.5" y="10" width="579.8" height="467.3" fill="none" stroke="#000" stroke-width="2.2"/>
<line x1="907.5" y1="52" x2="917.5" y2="52" stroke="#000" stroke-width="2.2"/>
<text x="902" y="62.8" font-size="28.6" text-anchor="end">10<tspan font-size="17" dy="-14.4">0</tspan></text>
<line x1="912" y1="72.8" x2="917.5" y2="72.8" stroke="#000" stroke-width="2.2"/>
<line x1="907.5" y1="121" x2="917.5" y2="121" stroke="#000" stroke-width="2.2"/>
<text x="902" y="131.8" font-size="28.6" text-anchor="end">10<tspan font-size="17" dy="-14.4">-1</tspan></text>
<line x1="912" y1="141.8" x2="917.5" y2="141.8" stroke="#000" stroke-width="2.2"/>
<line x1="907.5" y1="190" x2="917.5" y2="190" stroke="#000" stroke-width="2.2"/>
<text x="902" y="200.8" font-size="28.6" text-anchor="end">10<tspan font-size="17" dy="-14.4">-2</tspan></text>
<line x1="912" y1="210.8" x2="917.5" y2="210.8" stroke="#000" stroke-width="2.2"/>
<line x1="907.5" y1="259" x2="917.5" y2="259" stroke="#000" stroke-width="2.2"/>
<text x="902" y="269.8" font-size="28.6" text-anchor="end">10<tspan font-size="17" dy="-14.4">-3</tspan></text>
<line x1="912" y1="279.8" x2="917.5" y2="279.8" stroke="#000" stroke-width="2.2"/>
<line x1="907.5" y1="328" x2="917.5" y2="328" stroke="#000" stroke-width="2.2"/>
<text x="902" y="338.8" font-size="28.6" text-anchor="end">10<tspan font-size="17" dy="-14.4">-4</tspan></text>
<line x1="912" y1="348.8" x2="917.5" y2="348.8" stroke="#000" stroke-width="2.2"/>
<line x1="907.5" y1="397" x2="917.5" y2="397" stroke="#000" stroke-width="2.2"/>
<text x="902" y="407.8" font-size="28.6" text-anchor="end">10<tspan font-size="17" dy="-14.4">-5</tspan></text>
<line x1="912" y1="417.8" x2="917.5" y2="417.8" stroke="#000" stroke-width="2.2"/>
<line x1="907.5" y1="466" x2="917.5" y2="466" stroke="#000" stroke-width="2.2"/>
<text x="902" y="476.8" font-size="28.6" text-anchor="end">10<tspan font-size="17" dy="-14.4">-6</tspan></text>
<line x1="988" y1="477.3" x2="988" y2="487" stroke="#000" stroke-width="2.2"/>
<text x="988" y="516" font-size="28.6" text-anchor="middle">1.25</text>
<line x1="1062.9" y1="477.3" x2="1062.9" y2="482.5" stroke="#000" stroke-width="2.2"/>
<line x1="1137.8" y1="477.3" x2="1137.8" y2="487" stroke="#000" stroke-width="2.2"/>
<text x="1137.8" y="516" font-size="28.6" text-anchor="middle">1.50</text>
<line x1="1212.7" y1="477.3" x2="1212.7" y2="482.5" stroke="#000" stroke-width="2.2"/>
<line x1="1287.6" y1="477.3" x2="1287.6" y2="487" stroke="#000" stroke-width="2.2"/>
<text x="1287.6" y="516" font-size="28.6" text-anchor="middle">1.75</text>
<line x1="1362.5" y1="477.3" x2="1362.5" y2="482.5" stroke="#000" stroke-width="2.2"/>
<line x1="1437.4" y1="477.3" x2="1437.4" y2="487" stroke="#000" stroke-width="2.2"/>
<text x="1437.4" y="516" font-size="28.6" text-anchor="middle">2.00</text>
<text x="1206" y="552.6" font-size="28" text-anchor="middle">wavelength (nm)</text>
<text x="827.6" y="244.7" font-size="28" text-anchor="middle" transform="rotate(-90 827.6 244.7)">s-EQE</text>
<text x="798.5" y="41.9" font-size="36" text-anchor="start">b</text>
<line x1="1088.2" y1="351.3" x2="1139.5" y2="351.3" stroke="#BE1E2D" stroke-width="2.2"/>
<text x="1144.7" y="358.8" font-size="22.1" text-anchor="start">PM6:Y6</text>
<line x1="1088.2" y1="378.6" x2="1139.5" y2="378.6" stroke="#FDD14A" stroke-width="2.2"/>
<text x="1144.7" y="386.1" font-size="22.1" text-anchor="start">PM6:PM7:Y6</text>
<line x1="1088.2" y1="405.9" x2="1139.5" y2="405.9" stroke="#4A7EC5" stroke-width="2.2"/>
<text x="1144.7" y="413.4" font-size="22.1" text-anchor="start">PM6:PM7:Y6:PCBM</text>
<line x1="1088.2" y1="433.2" x2="1139.5" y2="433.2" stroke="#000000" stroke-width="2.2"/>
<text x="1144.7" y="440.7" font-size="22.1" text-anchor="start">PM7:Y6</text>
<line x1="1088.2" y1="460.5" x2="1139.5" y2="460.5" stroke="#F98B50" stroke-width="2.2"/>
<text x="1144.7" y="468" font-size="22.1" text-anchor="start">PM6:PCBM</text>
<defs>
<radialGradient id="gK" cx="0.37" cy="0.36" r="0.3"><stop offset="0" stop-color="#fff"/><stop offset="0.3" stop-color="#e6e6e6"/><stop offset="0.7" stop-color="#6a6a6a"/><stop offset="1" stop-color="#000"/></radialGradient>
<radialGradient id="gR" cx="0.37" cy="0.36" r="0.3"><stop offset="0" stop-color="#fff"/><stop offset="0.3" stop-color="#f8e4e5"/><stop offset="0.7" stop-color="#d77a80"/><stop offset="1" stop-color="#c2303a"/></radialGradient>
<radialGradient id="gY" cx="0.37" cy="0.36" r="0.3"><stop offset="0" stop-color="#fff"/><stop offset="0.3" stop-color="#fff8e0"/><stop offset="0.7" stop-color="#ffe594"/><stop offset="1" stop-color="#ffd752"/></radialGradient>
<radialGradient id="gB" cx="0.37" cy="0.36" r="0.3"><stop offset="0" stop-color="#fff"/><stop offset="0.3" stop-color="#e6eef8"/><stop offset="0.7" stop-color="#94b5de"/><stop offset="1" stop-color="#4e85c5"/></radialGradient>
<clipPath id="clipC"><rect x="147.6" y="597" width="577.5" height="464.8"/></clipPath>
</defs>
<g clip-path="url(#clipC)">
<path d="M166.9 931.8C169.3 930.3 175.8 925 181.5 923C187.2 921 193.9 920.4 201.4 919.8C208.9 919.2 217.5 919.3 226.5 919.4C235.5 919.5 245 920 255.4 920.5C265.8 921 277.3 921.8 288.7 922.6C300.1 923.4 311.9 924.3 323.8 925.1C335.8 925.9 347.8 926.4 360.4 927.2C372.9 928 386.3 929.1 399.1 929.9C411.9 930.7 423.8 931.3 437.4 932C451 932.7 466.3 933.3 480.6 934C494.9 934.7 508.8 935.3 523 936C537.2 936.7 551.5 937.3 566 938C580.5 938.7 595.3 939.3 610 940C624.7 940.7 639.4 941.3 654.4 942C669.4 942.7 688.1 943.6 700 944C711.9 944.4 721.7 944.4 726 944.5" fill="none" stroke="#c41e2e" stroke-width="1.8" stroke-linejoin="round"/>
<circle cx="166.9" cy="931.8" r="9.8" fill="url(#gR)"/>
<circle cx="181.5" cy="923" r="9.8" fill="url(#gR)"/>
<circle cx="201.4" cy="919.8" r="9.8" fill="url(#gR)"/>
<circle cx="226.5" cy="919.4" r="9.8" fill="url(#gR)"/>
<circle cx="255.4" cy="920.5" r="9.8" fill="url(#gR)"/>
<circle cx="288.7" cy="922.6" r="9.8" fill="url(#gR)"/>
<circle cx="323.8" cy="925.1" r="9.8" fill="url(#gR)"/>
<circle cx="360.4" cy="927.2" r="9.8" fill="url(#gR)"/>
<circle cx="399.1" cy="929.9" r="9.8" fill="url(#gR)"/>
<circle cx="437.4" cy="932" r="9.8" fill="url(#gR)"/>
<circle cx="480.6" cy="934" r="9.8" fill="url(#gR)"/>
<circle cx="523" cy="936" r="9.8" fill="url(#gR)"/>
<circle cx="566" cy="938" r="9.8" fill="url(#gR)"/>
<circle cx="610" cy="940" r="9.8" fill="url(#gR)"/>
<circle cx="654.4" cy="942" r="9.8" fill="url(#gR)"/>
<circle cx="700" cy="944" r="9.8" fill="url(#gR)"/>
<circle cx="725" cy="944.5" r="9.8" fill="url(#gR)"/>
<path d="M162.7 866.5C164.8 866.3 170.1 865.2 175.2 865.4C180.2 865.6 186.2 866.4 193 867.5C199.8 868.6 207.4 870.5 216.1 872.3C224.8 874 234.6 875.9 245.3 878C256 880.1 267.9 882.5 280.3 884.7C292.7 886.9 305.7 889.1 319.6 891.2C333.5 893.3 348.4 895.2 363.6 897.4C378.9 899.5 395.7 902.1 411.1 904.1C426.5 906.1 439.6 907.7 456 909.6C472.4 911.5 490.8 913.7 509.6 915.6C528.4 917.5 548.3 919.2 568.6 921C588.9 922.8 610.3 924.9 631.6 926.6C652.9 928.4 680.6 930.4 696.3 931.5C712 932.6 721 932.8 726 933" fill="none" stroke="#fdd245" stroke-width="1.8" stroke-linejoin="round"/>
<circle cx="162.7" cy="866.5" r="9.8" fill="url(#gY)"/>
<circle cx="175.2" cy="865.4" r="9.8" fill="url(#gY)"/>
<circle cx="193" cy="867.5" r="9.8" fill="url(#gY)"/>
<circle cx="216.1" cy="872.3" r="9.8" fill="url(#gY)"/>
<circle cx="245.3" cy="878" r="9.8" fill="url(#gY)"/>
<circle cx="280.3" cy="884.7" r="9.8" fill="url(#gY)"/>
<circle cx="319.6" cy="891.2" r="9.8" fill="url(#gY)"/>
<circle cx="363.6" cy="897.4" r="9.8" fill="url(#gY)"/>
<circle cx="411.1" cy="904.1" r="9.8" fill="url(#gY)"/>
<circle cx="456" cy="909.6" r="9.8" fill="url(#gY)"/>
<circle cx="509.6" cy="915.6" r="9.8" fill="url(#gY)"/>
<circle cx="568.6" cy="921" r="9.8" fill="url(#gY)"/>
<circle cx="631.6" cy="926.6" r="9.8" fill="url(#gY)"/>
<circle cx="696.3" cy="931.5" r="9.8" fill="url(#gY)"/>
<circle cx="725" cy="927.6" r="9.8" fill="url(#gY)"/>
<circle cx="725" cy="933" r="9.8" fill="url(#gY)"/>
<path d="M162.7 836.1C164.8 835.3 170.2 832.2 175.2 831.5C180.2 830.8 185.8 831.1 192.6 831.9C199.4 832.7 207.3 834.5 216.1 836.1C224.9 837.7 234.6 839.5 245.3 841.4C256 843.3 267.9 845.5 280.3 847.6C292.7 849.7 305.7 851.8 319.6 853.9C333.5 856 348.4 858.1 363.6 860.2C378.9 862.3 395.7 864.4 411.1 866.5C426.5 868.6 439.6 871.1 456 873C472.4 874.9 490.8 876.3 509.6 878C528.4 879.7 548.3 881.7 568.6 883.4C588.9 885.1 610.3 886.5 631.6 888C652.9 889.5 680.6 891.3 696.3 892.2C712 893.1 721 893.3 726 893.5" fill="none" stroke="#4a7fc4" stroke-width="1.8" stroke-linejoin="round"/>
<circle cx="162.7" cy="836.1" r="9.8" fill="url(#gB)"/>
<circle cx="175.2" cy="831.5" r="9.8" fill="url(#gB)"/>
<circle cx="192.6" cy="831.9" r="9.8" fill="url(#gB)"/>
<circle cx="216.1" cy="836.1" r="9.8" fill="url(#gB)"/>
<circle cx="245.3" cy="841.4" r="9.8" fill="url(#gB)"/>
<circle cx="280.3" cy="847.6" r="9.8" fill="url(#gB)"/>
<circle cx="319.6" cy="853.9" r="9.8" fill="url(#gB)"/>
<circle cx="363.6" cy="860.2" r="9.8" fill="url(#gB)"/>
<circle cx="411.1" cy="866.5" r="9.8" fill="url(#gB)"/>
<circle cx="456" cy="873" r="9.8" fill="url(#gB)"/>
<circle cx="509.6" cy="878" r="9.8" fill="url(#gB)"/>
<circle cx="568.6" cy="883.4" r="9.8" fill="url(#gB)"/>
<circle cx="631.6" cy="888" r="9.8" fill="url(#gB)"/>
<circle cx="696.3" cy="892.2" r="9.8" fill="url(#gB)"/>
<circle cx="725" cy="889" r="9.8" fill="url(#gB)"/>
<circle cx="725" cy="896" r="9.8" fill="url(#gB)"/>
<path d="M162.7 743C164.8 743.9 170.1 746.1 175.2 748.2C180.2 750.3 186.2 753.2 193 755.6C199.8 758 207.4 760.3 216.1 762.9C224.8 765.5 234.6 768.6 245.3 771.3C256 774 267.9 776.6 280.3 779C292.7 781.4 305.7 783.7 319.6 785.9C333.5 788.1 348.4 790.2 363.6 792.2C378.9 794.2 395.7 796.1 411.1 797.8C426.5 799.5 439.6 801 456 802.6C472.4 804.2 490.8 805.9 509.6 807.4C528.4 808.9 548.3 810.3 568.6 811.6C588.9 812.9 610.3 814.3 631.6 815.4C652.9 816.5 680.6 817.7 696.3 818.1C712 818.5 721 818 726 818" fill="none" stroke="#000000" stroke-width="1.8" stroke-linejoin="round"/>
<circle cx="162.7" cy="743" r="9.8" fill="url(#gK)"/>
<circle cx="175.2" cy="748.2" r="9.8" fill="url(#gK)"/>
<circle cx="193" cy="755.6" r="9.8" fill="url(#gK)"/>
<circle cx="216.1" cy="762.9" r="9.8" fill="url(#gK)"/>
<circle cx="245.3" cy="771.3" r="9.8" fill="url(#gK)"/>
<circle cx="280.3" cy="779" r="9.8" fill="url(#gK)"/>
<circle cx="319.6" cy="785.9" r="9.8" fill="url(#gK)"/>
<circle cx="363.6" cy="792.2" r="9.8" fill="url(#gK)"/>
<circle cx="411.1" cy="797.8" r="9.8" fill="url(#gK)"/>
<circle cx="456" cy="802.6" r="9.8" fill="url(#gK)"/>
<circle cx="509.6" cy="807.4" r="9.8" fill="url(#gK)"/>
<circle cx="568.6" cy="811.6" r="9.8" fill="url(#gK)"/>
<circle cx="631.6" cy="815.4" r="9.8" fill="url(#gK)"/>
<circle cx="696.3" cy="818.1" r="9.8" fill="url(#gK)"/>
<circle cx="725.2" cy="817.5" r="9.8" fill="url(#gK)"/>
</g>
<rect x="147.6" y="597" width="577.5" height="464.8" fill="none" stroke="#000" stroke-width="2.2"/>
<line x1="147.6" y1="1061.8" x2="147.6" y2="1071.8" stroke="#000" stroke-width="2.2"/>
<text x="147.6" y="1100.3" font-size="28.6" text-anchor="middle">0</text>
<line x1="205.3" y1="1061.8" x2="205.3" y2="1066.8" stroke="#000" stroke-width="2.2"/>
<line x1="263.1" y1="1061.8" x2="263.1" y2="1071.8" stroke="#000" stroke-width="2.2"/>
<text x="263.1" y="1100.3" font-size="28.6" text-anchor="middle">4</text>
<line x1="320.8" y1="1061.8" x2="320.8" y2="1066.8" stroke="#000" stroke-width="2.2"/>
<line x1="378.5" y1="1061.8" x2="378.5" y2="1071.8" stroke="#000" stroke-width="2.2"/>
<text x="378.5" y="1100.3" font-size="28.6" text-anchor="middle">8</text>
<line x1="436.2" y1="1061.8" x2="436.2" y2="1066.8" stroke="#000" stroke-width="2.2"/>
<line x1="494" y1="1061.8" x2="494" y2="1071.8" stroke="#000" stroke-width="2.2"/>
<text x="494" y="1100.3" font-size="28.6" text-anchor="middle">12</text>
<line x1="551.7" y1="1061.8" x2="551.7" y2="1066.8" stroke="#000" stroke-width="2.2"/>
<line x1="609.4" y1="1061.8" x2="609.4" y2="1071.8" stroke="#000" stroke-width="2.2"/>
<text x="609.4" y="1100.3" font-size="28.6" text-anchor="middle">16</text>
<line x1="667.2" y1="1061.8" x2="667.2" y2="1066.8" stroke="#000" stroke-width="2.2"/>
<line x1="724.9" y1="1061.8" x2="724.9" y2="1071.8" stroke="#000" stroke-width="2.2"/>
<text x="724.9" y="1100.3" font-size="28.6" text-anchor="middle">20</text>
<line x1="138" y1="692.9" x2="147.6" y2="692.9" stroke="#000" stroke-width="2.2"/>
<text x="131.8" y="702.1" font-size="28.6" text-anchor="end">1E-3</text>
<line x1="138" y1="1012.2" x2="147.6" y2="1012.2" stroke="#000" stroke-width="2.2"/>
<text x="131.8" y="1021.4" font-size="28.6" text-anchor="end">1E-4</text>
<line x1="142.5" y1="789" x2="147.6" y2="789" stroke="#000" stroke-width="2.2"/>
<text x="444.5" y="1141.2" font-size="28.7" text-anchor="middle">Current (mA)</text>
<text x="62.1" y="905" font-size="29" transform="rotate(-90 62.1 905)">EQE<tspan font-size="17" dy="9.8">EL</tspan><tspan dy="-9.8">(%)</tspan></text>
<text x="-1.5" y="628.5" font-size="36" text-anchor="start">c</text>
<line x1="444.9" y1="628.3" x2="495.7" y2="628.3" stroke="#c41e2e" stroke-width="1.8"/>
<circle cx="470.7" cy="628.3" r="9.8" fill="url(#gR)"/>
<text x="501" y="635.7" font-size="22.1" text-anchor="start">PM6:Y6</text>
<line x1="444.9" y1="655.3" x2="495.7" y2="655.3" stroke="#fdd245" stroke-width="1.8"/>
<circle cx="470.7" cy="655.3" r="9.8" fill="url(#gY)"/>
<text x="501" y="662.7" font-size="22.1" text-anchor="start">PM6:PM7:Y6</text>
<line x1="444.9" y1="682.4" x2="495.7" y2="682.4" stroke="#4a7fc4" stroke-width="1.8"/>
<circle cx="470.7" cy="682.4" r="9.8" fill="url(#gB)"/>
<text x="501" y="689.8" font-size="22.1" text-anchor="start">PM6:PM7:Y6:PCBM</text>
<line x1="444.9" y1="709.4" x2="495.7" y2="709.4" stroke="#000000" stroke-width="1.8"/>
<circle cx="470.7" cy="709.4" r="9.8" fill="url(#gK)"/>
<text x="501" y="716.8" font-size="22.1" text-anchor="start">PM7:Y6</text>
<defs>
<pattern id="hO" patternUnits="userSpaceOnUse" width="8" height="5.94" patternTransform="rotate(-45)"><rect width="8" height="5.94" fill="#FDB28A"/><rect y="0" width="8" height="1.6" fill="#4a3b32"/></pattern>
<pattern id="hB" patternUnits="userSpaceOnUse" width="8" height="5.94" patternTransform="rotate(45)"><rect width="8" height="5.94" fill="#7FA8DA"/><rect y="0" width="8" height="2.1" fill="#141c26"/></pattern>
</defs>
<rect x="932" y="983.1" width="38.5" height="76.9" fill="#D76B72" stroke="#3a3a3a" stroke-width="1"/>
<rect x="970.5" y="785.5" width="38.5" height="274.5" fill="url(#hO)" stroke="#1a1a1a" stroke-width="1.4"/>
<rect x="1009" y="762.4" width="39.3" height="297.6" fill="url(#hB)" stroke="#000" stroke-width="1.8"/>
<rect x="1076.4" y="984.5" width="38.5" height="75.5" fill="#D76B72" stroke="#3a3a3a" stroke-width="1"/>
<rect x="1114.9" y="772.2" width="38.5" height="287.8" fill="url(#hO)" stroke="#1a1a1a" stroke-width="1.4"/>
<rect x="1153.4" y="763.6" width="39.3" height="296.4" fill="url(#hB)" stroke="#000" stroke-width="1.8"/>
<rect x="1220.8" y="1004.3" width="38.5" height="55.7" fill="#D76B72" stroke="#3a3a3a" stroke-width="1"/>
<rect x="1259.3" y="759.3" width="38.5" height="300.7" fill="url(#hO)" stroke="#1a1a1a" stroke-width="1.4"/>
<rect x="1297.8" y="781.2" width="39.3" height="278.8" fill="url(#hB)" stroke="#000" stroke-width="1.8"/>
<rect x="1365.2" y="988.4" width="38.5" height="71.6" fill="#D76B72" stroke="#3a3a3a" stroke-width="1"/>
<rect x="1403.7" y="752.3" width="38.5" height="307.7" fill="url(#hO)" stroke="#1a1a1a" stroke-width="1.4"/>
<rect x="1442.2" y="791.8" width="39.3" height="268.2" fill="url(#hB)" stroke="#000" stroke-width="1.8"/>
<rect x="917.7" y="595.7" width="577.5" height="464.3" fill="none" stroke="#000" stroke-width="2.2"/>
<line x1="908" y1="1060" x2="917.7" y2="1060" stroke="#000" stroke-width="2.2"/>
<text x="902.5" y="1069.2" font-size="28.6" text-anchor="end">0.0</text>
<line x1="912.5" y1="1002" x2="917.7" y2="1002" stroke="#000" stroke-width="2.2"/>
<line x1="908" y1="943.9" x2="917.7" y2="943.9" stroke="#000" stroke-width="2.2"/>
<text x="902.5" y="953.1" font-size="28.6" text-anchor="end">0.1</text>
<line x1="912.5" y1="885.8" x2="917.7" y2="885.8" stroke="#000" stroke-width="2.2"/>
<line x1="908" y1="827.8" x2="917.7" y2="827.8" stroke="#000" stroke-width="2.2"/>
<text x="902.5" y="837" font-size="28.6" text-anchor="end">0.2</text>
<line x1="912.5" y1="769.8" x2="917.7" y2="769.8" stroke="#000" stroke-width="2.2"/>
<line x1="908" y1="711.7" x2="917.7" y2="711.7" stroke="#000" stroke-width="2.2"/>
<text x="902.5" y="720.9" font-size="28.6" text-anchor="end">0.3</text>
<line x1="912.5" y1="653.6" x2="917.7" y2="653.6" stroke="#000" stroke-width="2.2"/>
<line x1="908" y1="595.6" x2="917.7" y2="595.6" stroke="#000" stroke-width="2.2"/>
<text x="902.5" y="604.8" font-size="28.6" text-anchor="end">0.4</text>
<line x1="989.8" y1="1060" x2="989.8" y2="1070" stroke="#000" stroke-width="2.2"/>
<line x1="1134.2" y1="1060" x2="1134.2" y2="1070" stroke="#000" stroke-width="2.2"/>
<line x1="1278.6" y1="1060" x2="1278.6" y2="1070" stroke="#000" stroke-width="2.2"/>
<line x1="1423" y1="1060" x2="1423" y2="1070" stroke="#000" stroke-width="2.2"/>
<line x1="917.7" y1="1060" x2="917.7" y2="1065.5" stroke="#000" stroke-width="2.2"/>
<line x1="1062.1" y1="1060" x2="1062.1" y2="1065.5" stroke="#000" stroke-width="2.2"/>
<line x1="1206.5" y1="1060" x2="1206.5" y2="1065.5" stroke="#000" stroke-width="2.2"/>
<line x1="1350.9" y1="1060" x2="1350.9" y2="1065.5" stroke="#000" stroke-width="2.2"/>
<line x1="1495.3" y1="1060" x2="1495.3" y2="1065.5" stroke="#000" stroke-width="2.2"/>
<text x="987.8" y="1113.5" font-size="24" text-anchor="middle" transform="rotate(-15 987.8 1113.5)">PM6:Y6</text>
<text x="1132.2" y="1113.5" font-size="24" text-anchor="middle" transform="rotate(-15 1132.2 1113.5)">PM6:PM7:Y6</text>
<text x="1276.6" y="1113.5" font-size="24" text-anchor="middle" transform="rotate(-15 1276.6 1113.5)">PM6:PM7:Y6:PCBM</text>
<text x="1421" y="1113.5" font-size="24" text-anchor="middle" transform="rotate(-15 1421 1113.5)">PM7:Y6</text>
<text x="840" y="813.5" font-size="28.5" text-anchor="middle" transform="rotate(-90 840 813.5)">&#916;E (eV)</text>
<text x="798.5" y="628.5" font-size="36" text-anchor="start">d</text>
<rect x="1351" y="622.3" width="48.8" height="24" fill="#D76B72" stroke="#4a4a4a" stroke-width="1.2"/>
<rect x="1351" y="658.3" width="48.8" height="23.2" fill="url(#hO)" stroke="#1a1a1a" stroke-width="1.5"/>
<rect x="1351" y="694.5" width="48.8" height="23.8" fill="url(#hB)" stroke="#000" stroke-width="2"/>
<text x="1406.6" y="641.4" font-size="20.7">&#916;E<tspan font-size="12" dx="1.3" dy="7.5">2</tspan></text>
<text x="1406.6" y="677.5" font-size="20.7">&#916;E<tspan font-size="12" dx="1.3" dy="7.5">1</tspan></text>
<text x="1406.6" y="713.6" font-size="20.7">&#916;E<tspan font-size="12" dx="1.3" dy="7.5">3</tspan></text>
</svg></body></html>
